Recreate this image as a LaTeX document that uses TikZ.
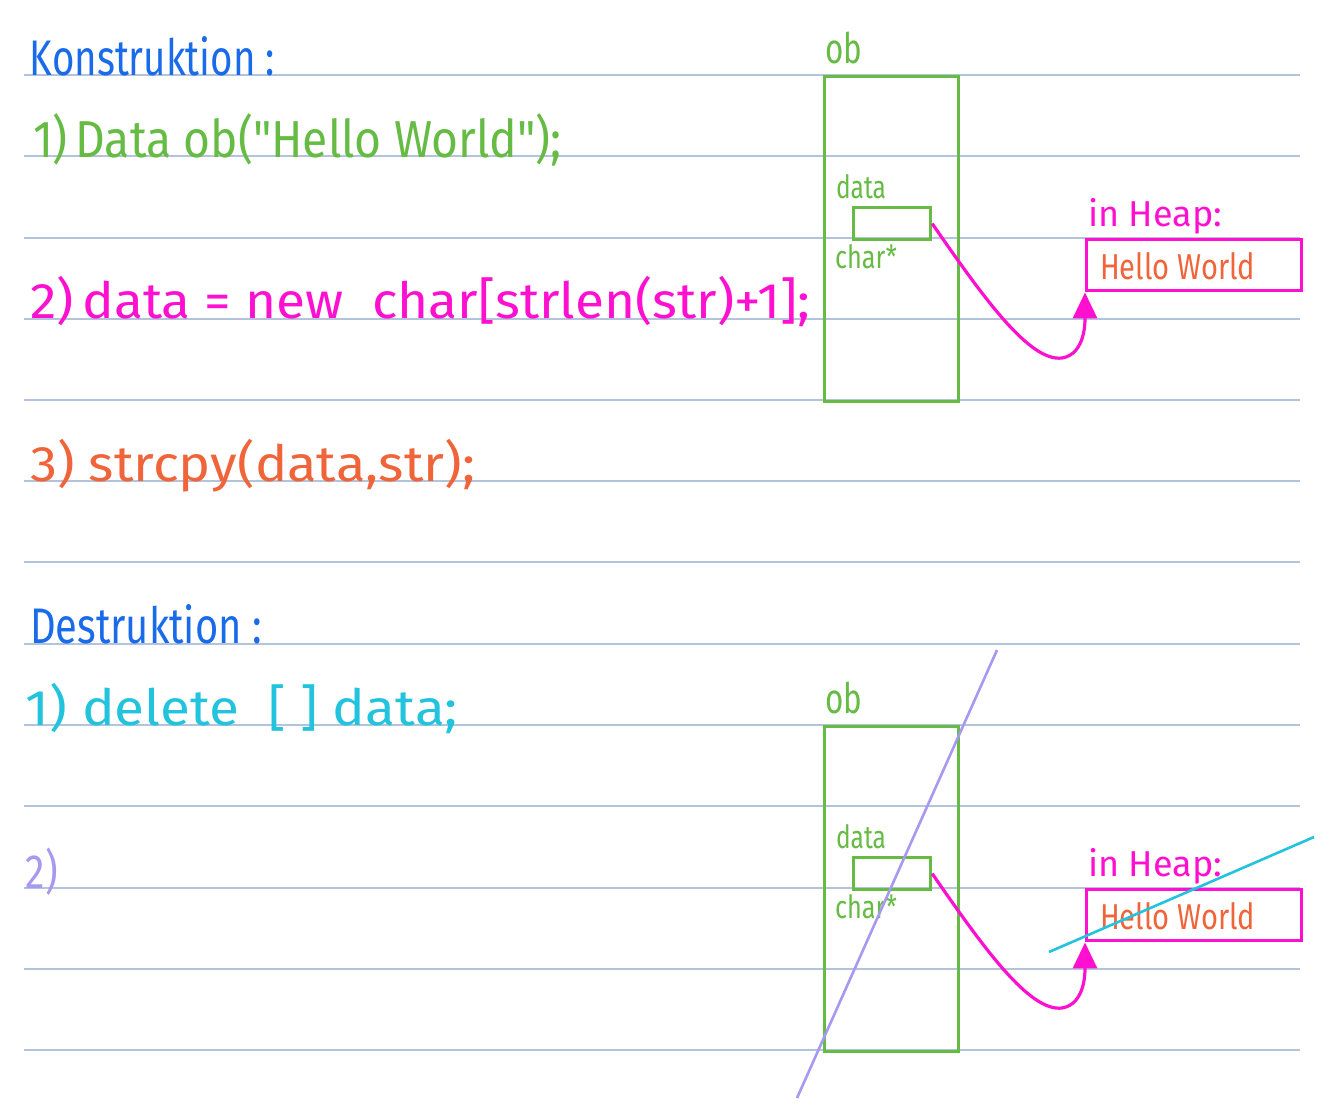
\documentclass[tikz,border=0pt]{standalone}
\usepackage{fontspec}
\usepackage{graphicx}
\setmainfont{Fira Sans}
\newfontfamily\qfont{Fira Sans}[Ligatures=Rare]
\usetikzlibrary{arrows.meta}
\definecolor{cblue}{HTML}{1A6BEA}
\definecolor{cgreen}{HTML}{66BB44}
\definecolor{cmag}{HTML}{FF10D0}
\definecolor{corange}{HTML}{F0643A}
\definecolor{ccyan}{HTML}{22C3DC}
\definecolor{cpurple}{HTML}{A898F0}
\definecolor{crule}{HTML}{B4C3DC}
\newcommand\hw[3]{\resizebox{#1pt}{\height}{\fontsize{#2}{#2}\selectfont #3}}
\newcommand\dq{{\qfont\symbol{34}}}
\tikzset{
  txt/.style={inner sep=0pt, outer sep=0pt, anchor=base west},
  rule/.style={crule, line width=1.6pt},
  obbox/.style={draw=cgreen, line width=3.4pt, inner sep=0pt, minimum width=134pt, minimum height=325pt, anchor=north west},
  ptrbox/.style={draw=cgreen, line width=3.2pt, inner sep=0pt, minimum width=77pt, minimum height=32pt, anchor=north west},
  heapbox/.style={draw=cmag, line width=3.4pt, inner sep=0pt, minimum width=215pt, minimum height=51pt, anchor=north west},
  link/.style={cmag, line width=3.2pt, -{Triangle[width=24pt,length=26pt]}},
  strike/.style={line width=2.6pt}
}
\begin{document}
\begin{tikzpicture}[x=1pt,y=-1pt]
\useasboundingbox (0,0) rectangle (1344,1114);
% ruled lines
\foreach \y in {75,156,238,319,400,481,562,644,725,806,888,969,1050}
  \draw[rule] (24,\y) -- (1300,\y);
% left texts
\node[txt, text=cblue] (t1) at (30,75) {\hw{245}{50}{Konstruktion :}};
\node[txt, text=cgreen] (t2) at (33,157) {\hw{529}{52}{1)\,Data ob(\dq Hello World\dq);}};
\node[txt, text=cmag] (t3) at (30,318) {\hw{780}{50}{2)\,data = new\ \ char[strlen(str)+1];}};
\node[txt, text=corange] (t4) at (30,481) {\hw{445}{50}{3) strcpy(data,str);}};
\node[txt, text=cblue] (t5) at (30,643) {\hw{232}{50}{Destruktion :}};
\node[txt, text=ccyan] (t6) at (26,725) {\hw{432}{50}{1) delete\ \ [ ] data;}};
\node[txt, text=cpurple] (t7) at (26,888) {\hw{32}{48}{2)}};
% top diagram
\node[txt, text=cgreen] (ob1) at (825,63) {\hw{37}{42}{ob}};
\node[obbox] (box1) at (823,75) {};
\node[txt, text=cgreen] (d1) at (836,198) {\hw{50}{32}{data}};
\node[ptrbox] (p1) at (852,206) {};
\node[txt, text=cgreen] (c1) at (835,268) {\hw{62}{32}{char*}};
\node[txt, text=cmag] (ih1) at (1088,226) {\hw{134}{36}{in Heap:}};
\node[heapbox] (h1) at (1085,238) {};
\node[txt, text=corange] (hw1) at (1100,279) {\hw{155}{36}{Hello World}};
\draw[link] (p1.east) .. controls (985,300) and (1030,362) .. (1062,358)
  .. controls (1086,354) and (1085,320) .. (h1.south west);
% bottom diagram
\node[txt, text=cgreen] (ob2) at (825,713) {\hw{37}{42}{ob}};
\node[obbox] (box2) at (823,725) {};
\node[txt, text=cgreen] (d2) at (836,848) {\hw{50}{32}{data}};
\node[ptrbox] (p2) at (852,856) {};
\node[txt, text=cgreen] (c2) at (835,918) {\hw{62}{32}{char*}};
\node[txt, text=cmag] (ih2) at (1088,876) {\hw{134}{36}{in Heap:}};
\node[heapbox] (h2) at (1085,888) {};
\node[txt, text=corange] (hw2) at (1100,929) {\hw{155}{36}{Hello World}};
\draw[link] (p2.east) .. controls (985,950) and (1030,1012) .. (1062,1008)
  .. controls (1086,1004) and (1085,970) .. (h2.south west);
% strike lines
\draw[strike, cpurple] (997,650) -- (797,1098);
\draw[strike, ccyan] (1049,952) -- (1314,837);
\end{tikzpicture}
\end{document}
